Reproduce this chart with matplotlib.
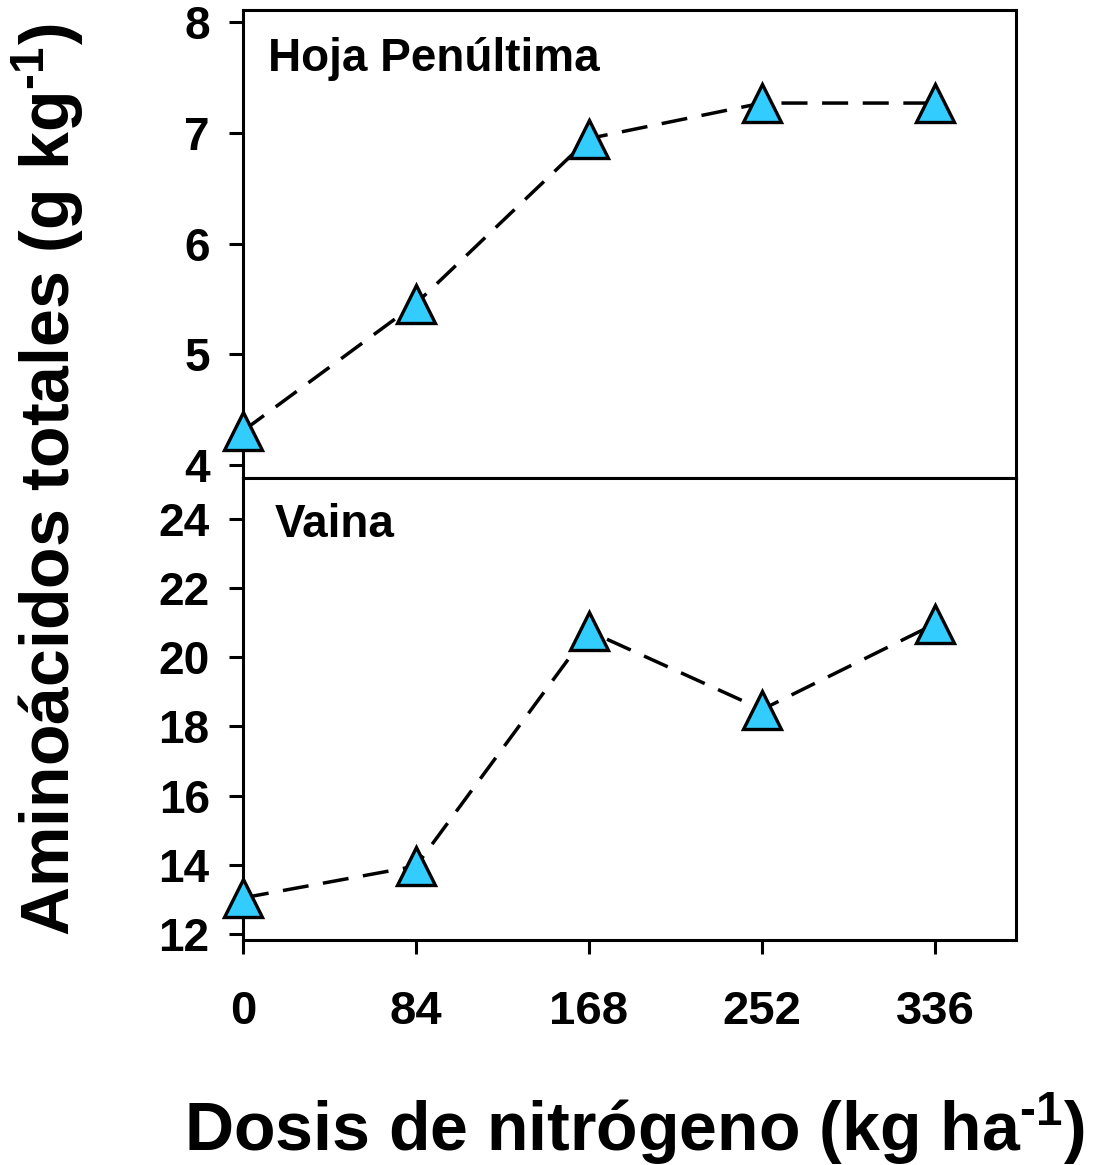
import matplotlib
matplotlib.use("Agg")
import matplotlib.pyplot as plt

plt.rcParams['font.family'] = ['Liberation Sans', 'DejaVu Sans']
plt.rcParams['font.weight'] = 'bold'
plt.rcParams['mathtext.fontset'] = 'custom'
plt.rcParams['mathtext.rm'] = 'Liberation Sans:bold'
plt.rcParams['mathtext.bf'] = 'Liberation Sans:bold'
plt.rcParams['mathtext.default'] = 'bf'

# nitrogen doses (kg/ha)
dosis = [0, 84, 168, 252, 336]
# total amino acids, penultimate leaf and sheath (g/kg)
hoja = [4.31, 5.46, 6.95, 7.27, 7.27]
vaina = [13.04, 13.96, 20.76, 18.49, 20.97]

hoja_ticks = [4, 5, 6, 7, 8]
vaina_ticks = [12, 14, 16, 18, 20, 22, 24]

fig = plt.figure(figsize=(10.96, 11.65), dpi=100)
ax1 = fig.add_axes([0.2217, 0.5897, 0.7053, 0.4017])
ax2 = fig.add_axes([0.2217, 0.1931, 0.7053, 0.3966])

line_kw = dict(color='black', lw=2.5, ls=(0, (7.5, 4.2)), marker='^', ms=27,
               mfc='#33CCFF', mec='black', mew=2.4, zorder=3, clip_on=False)

ax1.plot(dosis, hoja, **line_kw)
ax2.plot(dosis, vaina, **line_kw)

for ax in (ax1, ax2):
    ax.set_xlim(0, 375.3)
    ax.set_xticks(dosis)
    for s in ax.spines.values():
        s.set_linewidth(2.2)
    ax.tick_params(axis='y', direction='out', length=10, width=2.2,
                   labelsize=33, pad=14)

ax1.set_ylim(3.885, 8.11)
ax1.set_yticks(hoja_ticks)
ax1.tick_params(axis='x', direction='out', length=5, width=1.8,
                labelbottom=False)

ax2.set_ylim(11.82, 25.19)
ax2.set_yticks(vaina_ticks)
ax2.tick_params(axis='x', direction='out', length=10, width=2.2,
                labelsize=34, pad=26)

ax1.text(0.032, 0.8697, 'Hoja Penúltima', transform=ax1.transAxes,
         fontsize=33, fontweight='bold', va='baseline', ha='left')
ax2.text(0.041, 0.872, 'Vaina', transform=ax2.transAxes,
         fontsize=33, fontweight='bold', va='baseline', ha='left')

fig.text(0.0437, 0.588, r'Aminoácidos totales (g kg$^{\text{-1}}$)', rotation=90,
         fontsize=49, fontweight='bold', ha='center', va='center')
fig.text(0.579, 0.0122, r'Dosis de nitrógeno (kg ha$^{\text{-1}}$)',
         fontsize=49, fontweight='bold', ha='center', va='baseline')

fig.savefig('out.png', dpi=100)
